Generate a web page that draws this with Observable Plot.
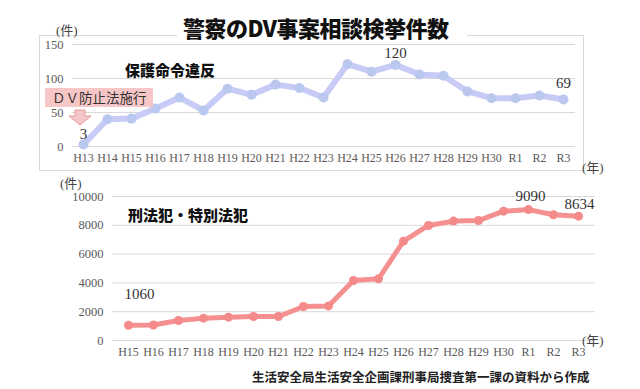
<!DOCTYPE html>
<html>
<head>
<meta charset="utf-8">
<script src="https://cdn.jsdelivr.net/npm/d3@7"></script>
<script src="https://cdn.jsdelivr.net/npm/@observablehq/plot@0.6"></script>
<style>
  html, body { margin: 0; padding: 0; background: #fff; }
  #page { position: relative; width: 640px; height: 389px; overflow: hidden; background: #fff;
          font-family: "Noto Sans CJK JP", "Noto Sans", sans-serif; color: #222; }
  .abs { position: absolute; white-space: nowrap; }
  #topPlot, #bottomPlot { position: absolute; left: 0; }
  #topPlot { top: 0; }
  #bottomPlot { top: 175px; }
  #box { position: absolute; left: 39px; top: 35px; width: 543px; height: 134px; border: 1px solid #d9d9d9; }
  #title { left: 177px; top: 12px; width: 290px; height: 30px; background: #fff; font-size: 22px; font-weight: 900;
           line-height: 30px; padding-left: 6px; box-sizing: border-box; color: #111; letter-spacing: -0.5px; }
  .unit { font-family: "Liberation Serif", "Noto Sans CJK JP", serif; font-size: 13px; color: #444; }
  .series { font-size: 15px; font-weight: 900; color: #111; }
  #law { left: 45px; top: 88px; width: 108px; height: 19px; background: #f7c7c7; font-size: 13.5px; line-height: 19px;
         padding-left: 7px; box-sizing: border-box; color: #333; }
  #footer { left: 252px; top: 367px; font-size: 12.5px; font-weight: 700; color: #222; }
</style>
</head>
<body>
<div id="page">
  <div id="box"></div>
  <div id="topPlot"></div>
  <div id="bottomPlot"></div>
  <div id="title" class="abs">警察のDV事案相談検挙件数</div>
  <div class="abs unit" style="left:56px; top:20px;">(件)</div>
  <div class="abs unit" style="left:582px; top:157px;">(年)</div>
  <div class="abs unit" style="left:60px; top:173px;">(件)</div>
  <div class="abs unit" style="left:582px; top:330px;">(年)</div>
  <div class="abs series" style="left:125px; top:59px;">保護命令違反</div>
  <div class="abs series" style="left:128px; top:204px;">刑法犯・特別法犯</div>
  <div id="law" class="abs">ＤＶ防止法施行</div>
  <svg class="abs" style="left:69px; top:109px;" width="24" height="18">
    <polygon points="6,1 16,1 16,7 22,7 11,16 0,7 6,7" fill="#f7c7c7" stroke="#e59a9a" stroke-width="1"/>
  </svg>
  <div id="footer" class="abs">生活安全局生活安全企画課刑事局捜査第一課の資料から作成</div>
</div>
<script>
// ---- data ----
const yearsTop = ["H13","H14","H15","H16","H17","H18","H19","H20","H21","H22","H23","H24","H25","H26","H27","H28","H29","H30","R1","R2","R3"];
const protectionOrderViolations = [3,40,41,56,72,53,85,76,91,86,72,121,110,120,106,104,81,71,71,75,69];
const yearsBottom = ["H15","H16","H17","H18","H19","H20","H21","H22","H23","H24","H25","H26","H27","H28","H29","H30","R1","R2","R3"];
const criminalCases = [1060,1080,1390,1550,1620,1670,1670,2360,2400,4170,4280,6900,7990,8290,8330,8980,9090,8730,8634];
const topTicks = [0,50,100,150];
const bottomTicks = [0,2000,4000,6000,8000,10000];

const topData = yearsTop.map((year, i) => ({year, value: protectionOrderViolations[i]}));
const bottomData = yearsBottom.map((year, i) => ({year, value: criminalCases[i]}));

const serif = "Liberation Serif, DejaVu Serif, serif";
const labelFont = {fontFamily: serif, fontSize: 15, fill: "#333"};
const axisFont = {fontFamily: serif, fill: "#595959"};
const pick = (data, y) => data.filter(d => d.year === y);

const topChart = Plot.plot({
  width: 640, height: 175,
  marginLeft: 72, marginRight: 65, marginTop: 44, marginBottom: 29,
  style: {fontFamily: serif, fontSize: "12px", color: "#595959", background: "transparent"},
  x: {type: "point", domain: yearsTop, padding: 0, insetLeft: 11, insetRight: 12, label: null},
  y: {domain: [0, 150], label: null},
  marks: [
    Plot.ruleY(topTicks, {stroke: "#d9d9d9", strokeWidth: 1}),
    Plot.axisY({ticks: topTicks, tickSize: 0, tickPadding: 9, label: null, fontSize: 12.5, ...axisFont}),
    Plot.axisX({tickSize: 0, tickPadding: 7, label: null, fontSize: 12, ...axisFont}),
    Plot.line(topData, {x: "year", y: "value", stroke: "#c8cbf6", strokeWidth: 6, strokeLinejoin: "round"}),
    Plot.dot(topData, {x: "year", y: "value", r: 5, fill: "#bac8f0"}),
    Plot.text(pick(topData, "H13"), {x: "year", y: "value", text: d => String(d.value), dy: -10, ...labelFont}),
    Plot.text(pick(topData, "H26"), {x: "year", y: "value", text: d => String(d.value), dy: -12, ...labelFont}),
    Plot.text(pick(topData, "R3"), {x: "year", y: "value", text: d => String(d.value), dy: -16, ...labelFont})
  ]
});
document.getElementById("topPlot").appendChild(topChart);

const bottomChart = Plot.plot({
  width: 640, height: 200,
  marginLeft: 112, marginRight: 45, marginTop: 21, marginBottom: 35,
  style: {fontFamily: serif, fontSize: "12px", color: "#595959", background: "transparent"},
  x: {type: "point", domain: yearsBottom, padding: 0, insetLeft: 12, insetRight: 13, label: null},
  y: {domain: [0, 10000], label: null},
  marks: [
    Plot.ruleY(bottomTicks, {stroke: "#d9d9d9", strokeWidth: 1}),
    Plot.axisY({ticks: bottomTicks, tickSize: 0, tickPadding: 9, label: null, fontSize: 12.5, tickFormat: d => String(d), ...axisFont}),
    Plot.axisX({tickSize: 0, tickPadding: 7, label: null, fontSize: 12, ...axisFont}),
    Plot.line(bottomData, {x: "year", y: "value", stroke: "#f59090", strokeWidth: 5, strokeLinejoin: "round"}),
    Plot.dot(bottomData, {x: "year", y: "value", r: 4.5, fill: "#f58a8a"}),
    Plot.text(pick(bottomData, "H15"), {x: "year", y: "value", text: d => String(d.value), dx: 11, dy: -31, ...labelFont}),
    Plot.text(pick(bottomData, "R1"), {x: "year", y: "value", text: d => String(d.value), dx: 2, dy: -13, ...labelFont}),
    Plot.text(pick(bottomData, "R3"), {x: "year", y: "value", text: d => String(d.value), dx: 1, dy: -12, ...labelFont})
  ]
});
document.getElementById("bottomPlot").appendChild(bottomChart);
</script>
</body>
</html>
